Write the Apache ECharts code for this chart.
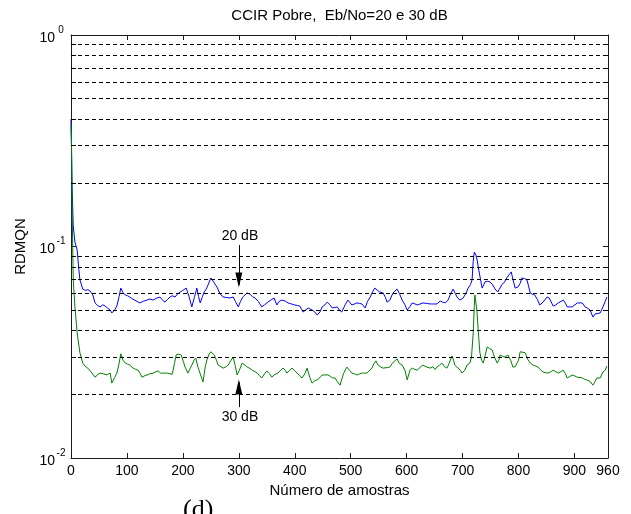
<!DOCTYPE html>
<html>
<head>
<meta charset="utf-8">
<script src="https://cdn.jsdelivr.net/npm/echarts@6/dist/echarts.min.js"></script>
<style>
  html, body { margin: 0; padding: 0; background: #fff; }
  #chart { width: 631px; height: 514px; }
</style>
</head>
<body>
<div id="chart"></div>
<script>
// RDMQN versus sample number, CCIR poor channel, Eb/No = 20 dB and 30 dB

const samples20 = [0,2,4,7,11,14,16,21,26,30,34,39,43,48,52,57,61,66,70,73,78,82,86,89,93,97,101,105,110,114,118,123,130,136,141,147,153,159,163,168,172,177,181,186,190,195,200,206,211,216,221,225,228,231,235,238,242,245,250,255,261,266,272,278,284,290,294,299,303,307,311,315,320,324,329,335,341,346,352,358,363,368,372,377,383,388,394,400,405,409,415,419,424,431,436,440,445,449,454,458,463,467,472,476,480,484,490,495,502,507,511,516,520,526,530,535,539,543,548,552,558,562,565,570,574,577,583,587,592,597,601,606,610,615,619,624,629,636,642,648,654,660,664,669,674,679,683,687,690,695,701,706,710,714,717,719,721,724,726,729,732,735,738,740,745,749,754,758,763,766,770,775,779,783,787,790,794,799,803,806,811,815,818,821,825,829,834,838,844,851,855,858,862,867,871,876,880,884,887,892,896,901,905,910,914,919,924,928,933,937,940,946,951,955,958];
const rdmqn20 = [0.40,0.19,0.125,0.105,0.0963,0.078,0.0695,0.0629,0.062,0.0625,0.0616,0.059,0.0541,0.0525,0.0518,0.053,0.0523,0.051,0.0501,0.0485,0.050,0.0523,0.058,0.0636,0.0605,0.059,0.0585,0.0577,0.0565,0.0558,0.055,0.0541,0.0552,0.0558,0.0565,0.0558,0.057,0.0577,0.056,0.0546,0.056,0.0577,0.0585,0.0577,0.0595,0.0609,0.062,0.0636,0.058,0.0518,0.058,0.0636,0.058,0.0541,0.058,0.0609,0.063,0.0643,0.0710,0.068,0.0643,0.060,0.0577,0.0574,0.0571,0.0577,0.055,0.0518,0.055,0.0577,0.059,0.0603,0.0595,0.0580,0.0571,0.055,0.0518,0.053,0.0546,0.056,0.0571,0.0529,0.055,0.0558,0.0552,0.0541,0.0535,0.0529,0.0526,0.0523,0.0490,0.050,0.0512,0.0501,0.049,0.0474,0.049,0.0518,0.053,0.0546,0.053,0.0512,0.0515,0.0518,0.050,0.0490,0.053,0.0558,0.0529,0.0535,0.0541,0.0538,0.0535,0.0512,0.055,0.0577,0.061,0.0636,0.062,0.0609,0.0603,0.0575,0.0546,0.0558,0.059,0.0609,0.0629,0.060,0.0558,0.053,0.0501,0.052,0.0541,0.0535,0.0529,0.0535,0.0541,0.0538,0.0535,0.0535,0.0535,0.0552,0.0546,0.0541,0.0558,0.060,0.0629,0.060,0.0577,0.0558,0.0571,0.060,0.0636,0.066,0.0695,0.085,0.0942,0.091,0.0864,0.0774,0.070,0.0636,0.066,0.0680,0.0685,0.0680,0.0658,0.063,0.0609,0.063,0.0658,0.068,0.0710,0.0735,0.0758,0.070,0.0636,0.0643,0.067,0.0710,0.0705,0.0695,0.065,0.0603,0.0595,0.0590,0.056,0.0529,0.0546,0.0577,0.057,0.0558,0.0523,0.053,0.0541,0.055,0.0558,0.054,0.0518,0.0518,0.0518,0.053,0.0541,0.0541,0.0541,0.0518,0.051,0.0501,0.0464,0.048,0.0490,0.0485,0.0518,0.055,0.0577];

const samples30 = [0,1,2,4,7,11,16,21,25,30,36,43,48,52,58,64,70,73,78,82,86,89,93,97,101,105,111,115,120,124,127,132,136,141,147,152,156,160,163,168,172,177,181,185,188,193,197,201,204,209,213,216,220,223,227,231,236,240,243,247,250,256,260,263,268,272,277,281,286,290,294,297,301,306,311,315,320,324,329,333,337,341,346,350,355,359,364,370,375,379,383,386,391,395,399,404,409,413,418,422,427,431,436,440,445,449,454,459,464,468,472,476,481,487,493,498,502,507,511,516,520,525,529,534,538,541,545,549,554,558,561,566,570,574,579,583,587,592,597,601,606,610,615,619,624,629,635,642,647,651,654,659,663,668,672,676,681,684,686,692,696,699,704,708,713,716,719,721,722,724,726,728,731,734,737,741,744,748,753,757,762,765,767,772,776,779,781,786,790,794,797,800,803,808,812,817,822,826,831,835,840,844,849,853,858,862,867,871,876,880,884,887,892,896,901,905,910,914,918,922,928,933,937,940,946,951,955,958];
const rdmqn30 = [0.38,0.30,0.15,0.07,0.052,0.039,0.0314,0.0281,0.0272,0.0266,0.0255,0.0241,0.0248,0.0252,0.025,0.0247,0.0252,0.0226,0.024,0.0252,0.028,0.0311,0.029,0.0281,0.0278,0.0275,0.0266,0.0263,0.0260,0.025,0.0241,0.0245,0.0247,0.025,0.0252,0.0256,0.0258,0.0252,0.0249,0.0252,0.0252,0.025,0.0249,0.028,0.0307,0.031,0.0307,0.0285,0.0269,0.0252,0.0265,0.0275,0.029,0.0297,0.0269,0.025,0.0229,0.027,0.0291,0.031,0.0318,0.0307,0.029,0.0275,0.027,0.0266,0.027,0.0275,0.029,0.0300,0.027,0.0247,0.026,0.0281,0.0275,0.0269,0.0265,0.0260,0.0256,0.0252,0.0245,0.0239,0.025,0.0258,0.025,0.0241,0.0248,0.0252,0.026,0.0266,0.026,0.0252,0.026,0.0266,0.026,0.0252,0.0245,0.0239,0.025,0.0266,0.024,0.0226,0.0232,0.0234,0.024,0.0247,0.0247,0.0247,0.0243,0.0239,0.0239,0.023,0.0221,0.025,0.0269,0.026,0.0252,0.025,0.0247,0.025,0.0252,0.0252,0.0252,0.026,0.0266,0.0278,0.0288,0.0275,0.0269,0.0266,0.0266,0.0268,0.0269,0.028,0.0288,0.0294,0.028,0.0275,0.026,0.0234,0.026,0.0266,0.0262,0.0260,0.0268,0.0275,0.027,0.0266,0.027,0.0262,0.0269,0.0275,0.0281,0.027,0.0266,0.028,0.0304,0.029,0.0275,0.0266,0.026,0.0252,0.026,0.0275,0.0281,0.030,0.0390,0.052,0.0590,0.054,0.0485,0.040,0.0314,0.029,0.0281,0.031,0.0335,0.033,0.0324,0.030,0.0281,0.029,0.0307,0.0302,0.0300,0.0305,0.0307,0.029,0.0269,0.027,0.0266,0.029,0.0318,0.0316,0.0314,0.0291,0.028,0.0275,0.0272,0.0269,0.026,0.0255,0.0253,0.0252,0.0256,0.0260,0.0256,0.0252,0.0256,0.0260,0.025,0.0239,0.0243,0.0247,0.0244,0.0241,0.024,0.0239,0.0236,0.0234,0.023,0.0221,0.023,0.0239,0.0239,0.0255,0.026,0.0272];

// dashed reference levels between the decades
const gridLevels = [0.02,0.03,0.04,0.05,0.06,0.07,0.08,0.09,0.2,0.3,0.4,0.5,0.6,0.7,0.8,0.9];

const xMin = 0, xMax = 960, xStep = 100;
const yMin = 0.01, yMax = 1;

const FONT = "'Liberation Sans', Arial, Helvetica, sans-serif";

const pairs = (xs, ys) => xs.map((x, i) => [x, ys[i]]);

const chart = echarts.init(document.getElementById('chart'), null, { renderer: 'canvas' });

const axisLineStyle = { color: '#1a1a1a', width: 1 };

// short solid ticks at the gridline levels on both vertical borders
const tickLen = 9;
const sideTicks = [];
gridLevels.forEach(v => {
  sideTicks.push([{ coord: [xMin, v] }, { coord: [xMin + tickLen, v] }]);
  sideTicks.push([{ coord: [xMax - tickLen, v] }, { coord: [xMax, v] }]);
});

chart.setOption({
  animation: false,
  backgroundColor: '#fff',
  grid: { left: 71, right: 23, top: 35, bottom: 56, containLabel: false },
  xAxis: [
    {
      type: 'value', position: 'bottom', min: xMin, max: xMax, interval: xStep,
      name: 'Número de amostras', nameLocation: 'middle', nameGap: 24,
      nameTextStyle: { fontFamily: FONT, fontSize: 15, color: '#000' },
      axisLine: { show: true, onZero: false, lineStyle: axisLineStyle },
      axisTick: { show: true, inside: true, length: 5, lineStyle: axisLineStyle },
      axisLabel: { show: true, margin: 6, fontFamily: FONT, fontSize: 14, color: '#000', showMaxLabel: true, showMinLabel: true },
      splitLine: { show: false }
    },
    {
      type: 'value', position: 'top', min: xMin, max: xMax, interval: xStep,
      name: 'CCIR Pobre,  Eb/No=20 e 30 dB', nameLocation: 'middle', nameGap: 12,
      nameTextStyle: { fontFamily: FONT, fontSize: 15, color: '#000' },
      axisLine: { show: true, onZero: false, lineStyle: axisLineStyle },
      axisTick: { show: true, inside: true, length: 5, lineStyle: axisLineStyle },
      axisLabel: { show: false },
      splitLine: { show: false }
    }
  ],
  yAxis: [
    {
      type: 'log', logBase: 10, position: 'left', min: yMin, max: yMax, interval: 1,
      name: 'RDMQN', nameLocation: 'middle', nameGap: 35, nameRotate: 90,
      nameTextStyle: { fontFamily: FONT, fontSize: 15, color: '#000' },
      axisLine: { show: true, onZero: false, lineStyle: axisLineStyle },
      axisTick: { show: true, inside: true, length: 5, lineStyle: axisLineStyle },
      axisLabel: {
        show: true, margin: 4, color: '#000',
        formatter: v => '{b|10}{s|' + Math.round(Math.log10(v)) + '}',
        rich: {
          b: { fontFamily: FONT, fontSize: 14, lineHeight: 20, verticalAlign: 'bottom', color: '#000' },
          s: { fontFamily: FONT, fontSize: 10, lineHeight: 8, verticalAlign: 'top', width: 12, align: 'left', color: '#000' }
        }
      },
      splitLine: { show: false }
    },
    {
      type: 'log', logBase: 10, position: 'right', min: yMin, max: yMax, interval: 1,
      axisLine: { show: true, onZero: false, lineStyle: axisLineStyle },
      axisTick: { show: true, inside: true, length: 5, lineStyle: axisLineStyle },
      axisLabel: { show: false },
      splitLine: { show: false }
    }
  ],
  graphic: [
    {
      type: 'text', left: 183, top: 497, silent: true,
      style: { text: '(d)', font: "26px 'Liberation Serif', 'Times New Roman', serif", fill: '#000' }
    }
  ],
  series: [
    {
      // reference levels and border ticks
      name: 'levels', type: 'line', data: [], z: 1, silent: true,
      markLine: {
        silent: true, symbol: ['none', 'none'], animation: false,
        label: { show: false },
        lineStyle: { color: '#000', width: 1, type: [4, 3] },
        data: gridLevels.map(v => ({ yAxis: v }))
      }
    },
    {
      name: 'ticks', type: 'line', data: [], z: 1, silent: true,
      markLine: {
        silent: true, symbol: ['none', 'none'], animation: false,
        label: { show: false },
        lineStyle: { color: '#000', width: 1, type: 'solid' },
        data: sideTicks
      }
    },
    {
      name: '20 dB', type: 'line', data: pairs(samples20, rdmqn20), z: 3,
      showSymbol: false, symbol: 'none',
      lineStyle: { color: '#0000ff', width: 1 }
    },
    {
      name: '30 dB', type: 'line', data: pairs(samples30, rdmqn30), z: 4,
      showSymbol: false, symbol: 'none',
      lineStyle: { color: '#008000', width: 1 }
    },
    {
      // curve labels with pointing arrows
      name: 'notes', type: 'line', data: [], z: 5, silent: true,
      markLine: {
        silent: true, animation: false,
        symbol: ['none', 'none'],
        label: { show: false },
        lineStyle: { color: '#000', width: 1, type: 'solid' },
        data: [
          [{ coord: [300, 0.1016] }, { coord: [300, 0.0660] }],
          [{ coord: [300, 0.0174] }, { coord: [300, 0.0228] }]
        ]
      },
      markPoint: {
        silent: true, animation: false,
        symbol: 'circle', symbolSize: 1,
        itemStyle: { color: 'rgba(0,0,0,0)' },
        label: { show: true, position: 'inside', fontFamily: FONT, fontSize: 14, color: '#000' },
        data: [
          { coord: [302, 0.112], label: { formatter: '20 dB' } },
          { coord: [302, 0.0156], label: { formatter: '30 dB' } },
          {
            coord: [300, 0.0643], symbol: 'triangle', symbolSize: [7, 15], symbolRotate: 180,
            symbolOffset: [0, -7], itemStyle: { color: '#000' }, label: { show: false }
          },
          {
            coord: [300, 0.0234], symbol: 'triangle', symbolSize: [7, 15], symbolRotate: 0,
            symbolOffset: [0, 7], itemStyle: { color: '#000' }, label: { show: false }
          }
        ]
      }
    }
  ]
});
</script>
</body>
</html>
